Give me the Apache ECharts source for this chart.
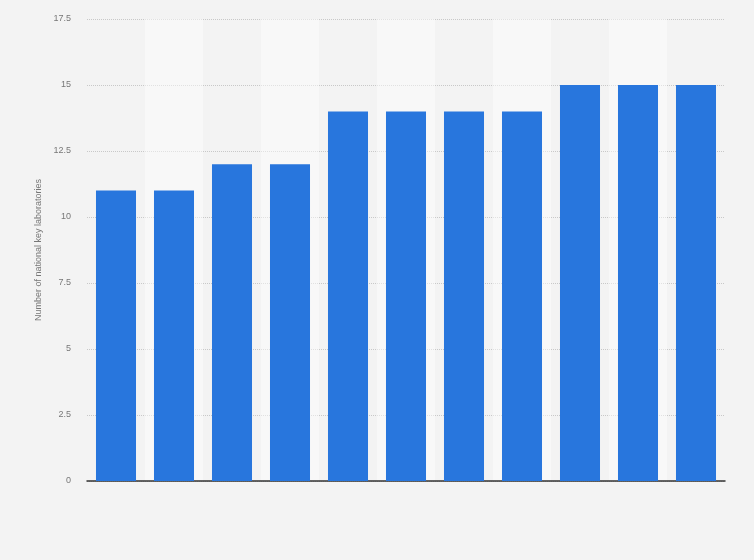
<!DOCTYPE html>
<html><head><meta charset="utf-8">
<script src="https://cdn.jsdelivr.net/npm/echarts@6/dist/echarts.min.js"></script>
<style>html,body{margin:0;padding:0;background:#f3f3f3}#c{width:754px;height:560px}</style>
</head><body><div id="c"></div>
<script>
const categories = ['1','2','3','4','5','6','7','8','9','10','11'];
const values = [11, 11, 12, 12, 14, 14, 14, 14, 15, 15, 15];
const yTicks = { min: 0, max: 17.5, interval: 2.5 };
const yAxisName = 'Number of national key laboratories';

const chart = echarts.init(document.getElementById('c'));
chart.setOption({
  backgroundColor: '#f3f3f3',
  animation: false,
  grid: { left: 87, right: 29, top: 19, bottom: 79, containLabel: false },
  xAxis: {
    type: 'category',
    data: categories,
    axisLine: { show: true, lineStyle: { color: '#333', width: 1.5 } },
    axisTick: { show: false },
    axisLabel: { show: false },
    splitArea: { show: true, areaStyle: { color: ['rgba(0,0,0,0)', 'rgba(255,255,255,0.45)'] } }
  },
  yAxis: {
    type: 'value',
    min: yTicks.min, max: yTicks.max, interval: yTicks.interval,
    name: yAxisName,
    nameLocation: 'middle',
    nameGap: 42,
    nameTextStyle: { color: '#777', fontSize: 9, fontFamily: 'Arial, Liberation Sans, sans-serif' },
    axisLine: { show: false },
    axisTick: { show: false },
    axisLabel: { color: '#777', fontSize: 9, margin: 16, fontFamily: 'Arial, Liberation Sans, sans-serif',
      formatter: v => String(v) },
    splitLine: { show: true, lineStyle: { color: '#c8c8c8', type: [1, 1], width: 1 } }
  },
  series: [{
    type: 'bar',
    data: values,
    barWidth: '69%',
    itemStyle: { color: '#2876dd' }
  }]
});
</script></body></html>
